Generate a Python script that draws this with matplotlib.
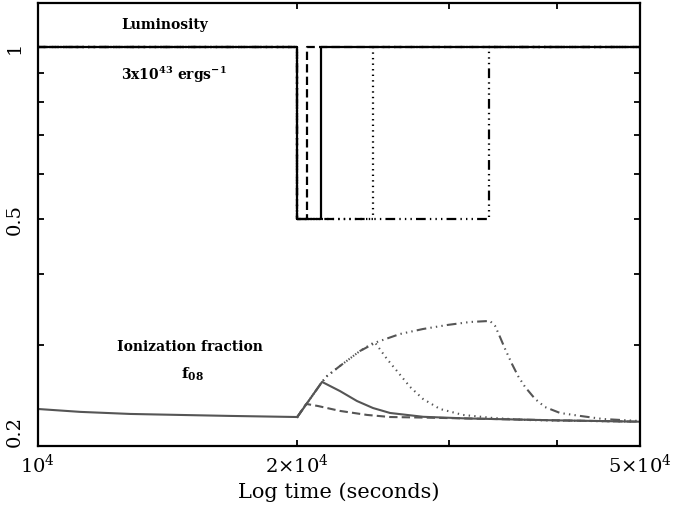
import matplotlib
matplotlib.use('Agg')
import matplotlib.pyplot as plt
from matplotlib.ticker import FixedLocator, FixedFormatter, NullFormatter

plt.rcParams['font.family'] = ['DejaVu Serif']
plt.rcParams['mathtext.fontset'] = 'dejavuserif'
plt.rcParams['lines.scale_dashes'] = False

# ---- Luminosity (in units of 3x10^43 erg/s): step histories ----
lum_t_dashed = [1.0e4, 2.0e4, 2.0e4, 2.05e4, 2.05e4, 5.0e4]
lum_dashed = [1, 1, 0.5, 0.5, 1, 1]
lum_t_solid = [1.0e4, 2.0e4, 2.0e4, 2.13e4, 2.13e4, 5.0e4]
lum_solid = [1, 1, 0.5, 0.5, 1, 1]
lum_t_dotted = [1.0e4, 2.0e4, 2.0e4, 2.45e4, 2.45e4, 5.0e4]
lum_dotted = [1, 1, 0.5, 0.5, 1, 1]
lum_t_dashdot = [1.0e4, 2.0e4, 2.0e4, 3.34e4, 3.34e4, 5.0e4]
lum_dashdot = [1, 1, 0.5, 0.5, 1, 1]

# ---- Ionization fraction f08 ----
ion_t_pre = [1.0e4, 1.12e4, 1.28e4, 1.46e4, 1.67e4, 2.0e4]
ion_pre = [0.2322, 0.2295, 0.2276, 0.2267, 0.2258, 0.2248]

ion_t_solid = [2.0e4, 2.137e4, 2.242e4, 2.346e4, 2.449e4, 2.563e4, 2.8e4, 3.15e4, 4.0e4, 5.0e4]
ion_solid = [0.2248, 0.2590, 0.2496, 0.2398, 0.2331, 0.2285, 0.2250, 0.2235, 0.2218, 0.2206]

ion_t_dashed = [2.0e4, 2.048e4, 2.114e4, 2.242e4, 2.41e4, 2.563e4, 2.8e4, 3.15e4, 4.0e4, 5.0e4]
ion_dashed = [0.2248, 0.2370, 0.2350, 0.2304, 0.2267, 0.2248, 0.2243, 0.2235, 0.2218, 0.2206]

ion_t_dotted = [2.0e4, 2.137e4, 2.166e4, 2.242e4, 2.365e4, 2.46e4, 2.542e4, 2.611e4, 2.704e4,
                2.799e4, 2.929e4, 3.115e4, 3.376e4, 3.697e4, 4.0e4, 5.0e4]
ion_dotted = [0.2248, 0.2590, 0.2652, 0.2762, 0.2934, 0.3042, 0.2841, 0.2706, 0.2538,
              0.2418, 0.2322, 0.2267, 0.2239, 0.2221, 0.2216, 0.2206]

ion_t_dashdot = [2.0e4, 2.137e4, 2.166e4, 2.242e4, 2.365e4, 2.475e4, 2.632e4, 2.799e4, 2.985e4,
                 3.174e4, 3.348e4, 3.394e4, 3.439e4, 3.486e4, 3.551e4, 3.609e4, 3.677e4,
                 3.777e4, 3.879e4, 4.038e4, 4.26e4, 4.53e4, 5.0e4]
ion_dashdot = [0.2248, 0.2590, 0.2652, 0.2762, 0.2934, 0.3042, 0.3142, 0.3206, 0.3258,
               0.3298, 0.3312, 0.3246, 0.3104, 0.2958, 0.2784, 0.2652, 0.2538,
               0.2418, 0.2340, 0.2285, 0.2258, 0.2230, 0.2212]

x_major = [1e4, 2e4, 5e4]
x_major_labels = [r'$10^{4}$', r'$2{\times}10^{4}$', r'$5{\times}10^{4}$']
x_minor = [3e4, 4e4]
y_major = [0.2, 0.5, 1.0]
y_major_labels = ['0.2', '0.5', '1']
y_minor = [0.3, 0.4, 0.6, 0.7, 0.8, 0.9]

DASHED = (0, (6, 3))
DOTTED = (0, (1, 3))
DASHDOT = (0, (7, 3, 1, 3, 1, 3, 1, 3))

fig = plt.figure(figsize=(6.75, 5.1), dpi=100)
ax = fig.add_axes([38/675, 1-447/510, 602/675, 443/510])
ax.set_xscale('log')
ax.set_yscale('log')

lw_l = 1.6
ax.plot(lum_t_dashdot, lum_dashdot, color='black', lw=lw_l, ls=DASHDOT)
ax.plot(lum_t_dotted, lum_dotted, color='black', lw=lw_l, ls=DOTTED)
ax.plot(lum_t_dashed, lum_dashed, color='black', lw=lw_l, ls=DASHED)
ax.plot(lum_t_solid, lum_solid, color='black', lw=lw_l, ls='-')

gray = '#555555'
lw_i = 1.5
ax.plot(ion_t_dashdot, ion_dashdot, color=gray, lw=lw_i, ls=DASHDOT)
ax.plot(ion_t_dotted, ion_dotted, color=gray, lw=lw_i, ls=DOTTED)
ax.plot(ion_t_dashed, ion_dashed, color=gray, lw=lw_i, ls=DASHED)
ax.plot(ion_t_pre, ion_pre, color=gray, lw=lw_i, ls='-')
ax.plot(ion_t_solid, ion_solid, color=gray, lw=lw_i, ls='-')

ax.set_xlim(1e4, 5e4)
ax.set_ylim(0.2, 1.194)

ax.xaxis.set_major_locator(FixedLocator(x_major))
ax.xaxis.set_major_formatter(FixedFormatter(x_major_labels))
ax.xaxis.set_minor_locator(FixedLocator(x_minor))
ax.xaxis.set_minor_formatter(NullFormatter())
ax.yaxis.set_major_locator(FixedLocator(y_major))
ax.yaxis.set_major_formatter(FixedFormatter(y_major_labels))
ax.yaxis.set_minor_locator(FixedLocator(y_minor))
ax.yaxis.set_minor_formatter(NullFormatter())

ax.tick_params(which='both', direction='in', top=True, right=True, width=1.3, color='black')
ax.tick_params(which='major', length=4)
ax.tick_params(which='minor', length=4)
ax.tick_params(axis='x', which='major', labelsize=14, pad=5)
ax.tick_params(axis='y', which='major', labelsize=14, pad=10)
for lab in ax.get_yticklabels():
    lab.set_rotation(90)
    lab.set_va('center')
    if lab.get_text() == '0.2':
        lab.set_va('bottom')
for s in ax.spines.values():
    s.set_linewidth(1.6)

ax.set_xlabel('Log time (seconds)', fontsize=15, labelpad=4)

tf = ax.transAxes
fs = 10
ax.text(0.138, 0.953, 'Luminosity', transform=tf, fontsize=fs, fontweight='bold', va='center', ha='left')
ax.text(0.138, 0.84, r'3x10$^{\mathbf{43}}$ ergs$^{\mathbf{-1}}$', transform=tf, fontsize=fs,
        fontweight='bold', va='center', ha='left')
ax.text(0.2525, 0.2257, 'Ionization fraction', transform=tf, fontsize=fs, fontweight='bold',
        va='center', ha='center')
ax.text(0.256, 0.165, r'f$_{\mathbf{08}}$', transform=tf, fontsize=fs + 1, fontweight='bold',
        va='center', ha='center')

fig.savefig('out.png', dpi=100)
